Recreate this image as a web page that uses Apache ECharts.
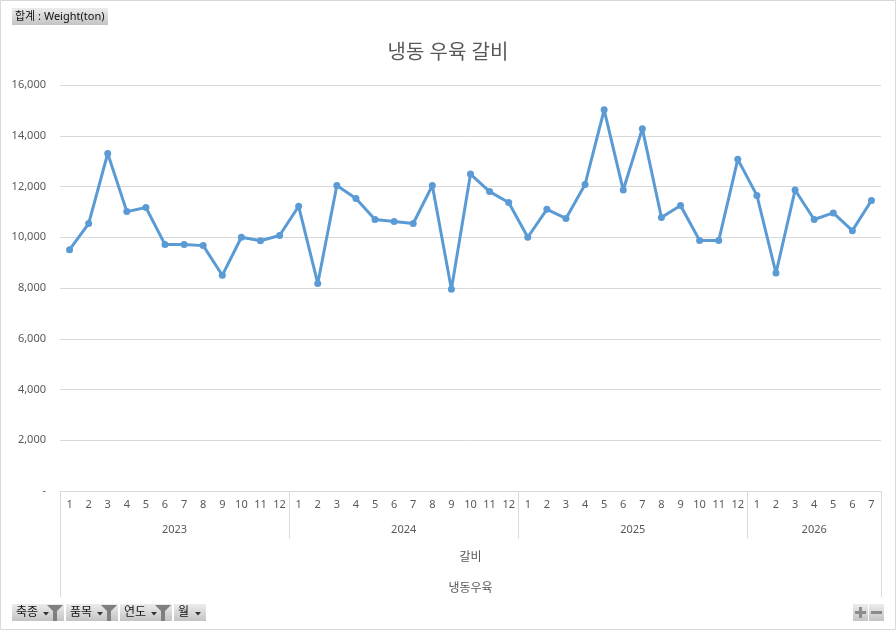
<!DOCTYPE html>
<html>
<head>
<meta charset="utf-8">
<script src="https://cdn.jsdelivr.net/npm/echarts@6/dist/echarts.min.js"></script>
<style>html,body{margin:0;padding:0;background:#fff;}#c{width:896px;height:630px;}</style>
</head>
<body>
<div id="c"></div>
<script>
const years = ['2023', '2024', '2025', '2026'];
const monthsPerYear = [12, 12, 12, 7];
const v2023 = [9510, 10540, 13300, 11010, 11170, 9710, 9710, 9670, 8500, 10000, 9860, 10070];
const v2024 = [11220, 8180, 12040, 11530, 10700, 10620, 10540, 12040, 7950, 12490, 11800, 11370];
const v2025 = [10000, 11100, 10740, 12080, 15020, 11860, 14280, 10780, 11250, 9870, 9870, 13070];
const v2026 = [11650, 8590, 11860, 10700, 10960, 10260, 11450];
const yTicks = [0, 2000, 4000, 6000, 8000, 10000, 12000, 14000, 16000];
const title = '냉동 우육 갈비';
const level2 = '갈비';
const level3 = '냉동우육';

const categories = [];
monthsPerYear.forEach((n, yi) => { for (let m = 1; m <= n; m++) categories.push(years[yi] + '-' + m); });
const values = [].concat(v2023, v2024, v2025, v2026);
const total = categories.length;
const bounds = []; let acc = 0;
monthsPerYear.forEach(n => { acc += n; bounds.push(acc); });
const innerBounds = bounds.slice(0, -1);
const centers = []; let st = 0;
monthsPerYear.forEach(n => { centers.push(st + n / 2); st += n; });

const FONT = '"Noto Sans", "Noto Sans CJK KR", sans-serif';
const TXT = '#595959';
const LINE = '#d9d9d9';

const btnGrad = new echarts.graphic.LinearGradient(0, 0, 0, 1, [
  { offset: 0, color: '#ececec' }, { offset: 1, color: '#c4c4c4' }
]);
function button(x, w, label, funnel) {
  const els = [
    { type: 'rect', shape: { x: x, y: 604, width: w, height: 17 }, style: { fill: btnGrad } },
    { type: 'text', style: { x: x + 4, y: 612.5, text: label, font: '12px ' + FONT, fill: '#111', verticalAlign: 'middle' } },
  ];
  const ax = funnel ? x + w - 21 : x + w - 11;
  els.push({ type: 'polygon', shape: { points: [[ax, 612], [ax + 6, 612], [ax + 3, 615.5]] }, style: { fill: '#333' } });
  if (funnel) {
    const fx = x + w - 17;
    els.push({ type: 'polygon', shape: { points: [[fx, 605], [fx + 16, 605], [fx + 10, 611], [fx + 10, 621], [fx + 6, 621], [fx + 6, 611]] }, style: { fill: '#7f7f7f' } });
  }
  return els;
}

const graphics = [
  { type: 'rect', shape: { x: 0.5, y: 0.5, width: 895, height: 629 }, style: { fill: 'none', stroke: '#d9d9d9', lineWidth: 1 } },
  { type: 'rect', shape: { x: 12, y: 8, width: 96, height: 17 }, style: { fill: btnGrad } },
  { type: 'text', style: { x: 15, y: 16.5, text: '합계 : Weight(ton)', font: '11px ' + FONT, fill: '#111', verticalAlign: 'middle' } },
  ...button(12, 52, '축종', true),
  ...button(66, 52, '품목', true),
  ...button(120, 52, '연도', true),
  ...button(174, 32, '월', false),
  { type: 'rect', shape: { x: 853, y: 604, width: 15, height: 17 }, style: { fill: btnGrad } },
  { type: 'rect', shape: { x: 869, y: 604, width: 15, height: 17 }, style: { fill: btnGrad } },
  { type: 'rect', shape: { x: 855, y: 611, width: 11, height: 3 }, style: { fill: '#8c8c8c' } },
  { type: 'rect', shape: { x: 859, y: 607, width: 3, height: 11 }, style: { fill: '#8c8c8c' } },
  { type: 'rect', shape: { x: 871, y: 611, width: 11, height: 3 }, style: { fill: '#8c8c8c' } },
];

const chart = echarts.init(document.getElementById('c'));
chart.setOption({
  animation: false,
  backgroundColor: '#fff',
  title: { text: title, left: 'center', top: 38, textStyle: { fontFamily: FONT, fontSize: 20, fontWeight: 'normal', color: TXT } },
  grid: { left: 60, right: 15, top: 85, bottom: 139, containLabel: false },
  xAxis: [
    {
      type: 'category', data: categories, boundaryGap: true, position: 'bottom',
      axisLine: { show: true, lineStyle: { color: LINE, width: 1 } },
      axisTick: { show: false },
      axisLabel: { interval: 0, margin: 8, color: TXT, fontSize: 11, fontFamily: FONT, formatter: v => v.split('-')[1] },
      splitLine: { show: false }
    },
    {
      type: 'value', min: 0, max: total, position: 'bottom',
      axisLine: { show: false },
      axisTick: { show: true, customValues: innerBounds, length: 47, lineStyle: { color: LINE } },
      axisLabel: { show: true, customValues: centers, margin: 33, color: TXT, fontSize: 11, fontFamily: FONT,
        formatter: v => { const i = centers.indexOf(v); return i >= 0 ? years[i] : ''; } },
      splitLine: { show: false }
    },
    {
      type: 'value', min: 0, max: total, position: 'bottom',
      axisLine: { show: false },
      axisTick: { show: true, customValues: [0, total], length: 106, lineStyle: { color: LINE } },
      axisLabel: { show: true, customValues: [total / 2], margin: 61, color: TXT, fontSize: 12, fontFamily: FONT, formatter: () => level2 },
      name: level3, nameLocation: 'middle', nameGap: 92, nameTextStyle: { color: TXT, fontSize: 12, fontFamily: FONT },
      splitLine: { show: false }
    }
  ],
  yAxis: {
    type: 'value', min: yTicks[0], max: yTicks[yTicks.length - 1], interval: yTicks[1] - yTicks[0],
    axisLine: { show: false }, axisTick: { show: false },
    axisLabel: { margin: 14, color: TXT, fontSize: 11, fontFamily: FONT,
      formatter: v => v === 0 ? '-' : v.toLocaleString('en-US') },
    splitLine: { show: true, lineStyle: { color: LINE, width: 1 } }
  },
  series: [{
    type: 'line', data: values, xAxisIndex: 0,
    symbol: 'circle', symbolSize: 7,
    lineStyle: { color: '#5b9bd5', width: 3 },
    itemStyle: { color: '#5b9bd5' }
  }],
  graphic: graphics
});
</script>
</body>
</html>
